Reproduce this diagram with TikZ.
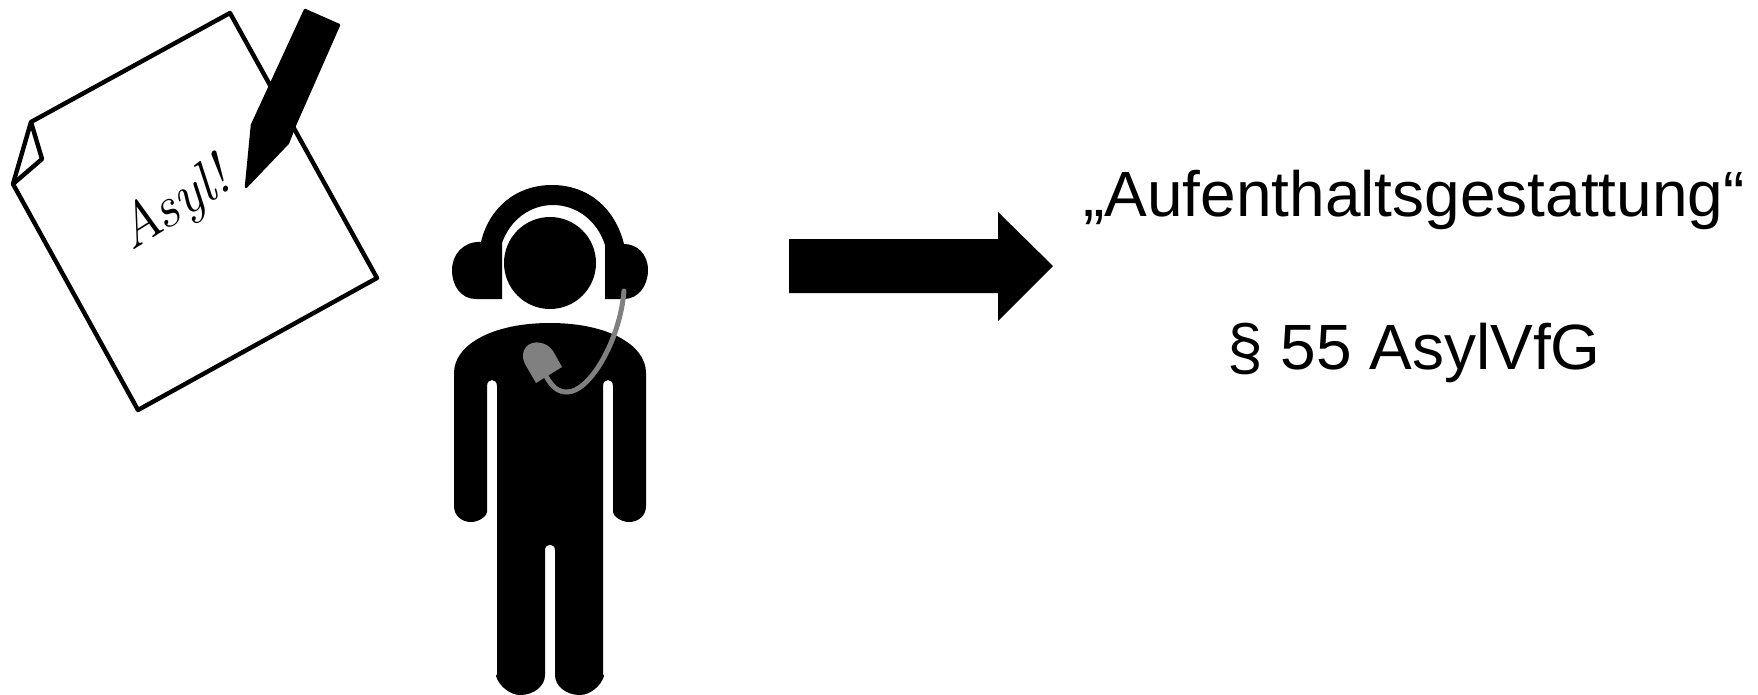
\documentclass[tikz,border=0pt]{standalone}
\usepackage{fontspec}
\setmainfont{Liberation Sans}
\newfontfamily\handfont{Latin Modern Roman}
\definecolor{micgray}{HTML}{808080}

\begin{document}
\begin{tikzpicture}[x=1pt, y=-1pt,
  sheet/.style={draw=black, line width=4.4pt, line join=round},
  bigtext/.style={font=\fontsize{64}{70}\selectfont, inner sep=0pt, anchor=base}]
  \useasboundingbox (0,0) rectangle (1758,694);
  % Sheet of paper with folded corner
  \draw[sheet] (31,122)--(230,13)--(377,278)--(138,410)--(13,184)--cycle;
  \draw[sheet] (31,122)--(42,159)--(13,184);
  \node[rotate=32, inner sep=0pt, font=\handfont\itshape\fontsize{58}{60}\selectfont] (plea) at (175,207) {Asyl!};
  % Pen
  \fill[line join=round, draw=black, line width=2.5pt]
    (305,10)--(339,25)--(295,125)--(288,143)--(246,187)--(252,125)--cycle;
  % Headset
  \fill (502,299) -- (502,243)
    .. controls (510,220) and (530,205) .. (553,205)
    .. controls (576,205) and (597,220) .. (605,245)
    -- (605,299) -- (624,299)
    .. controls (638,299) and (648,286) .. (648,270)
    .. controls (648,254) and (637,244) .. (624,244)
    .. controls (615,208) and (588,185) .. (552,185)
    .. controls (516,185) and (489,208) .. (481,242)
    .. controls (464,241) and (452,254) .. (452,270)
    .. controls (452,286) and (461,299) .. (476,299) -- cycle;
  % Head
  \fill (550,263) circle (46);
  % Body
  \fill (454,373)
    .. controls (454,345) and (492,323) .. (550,323)
    .. controls (608,323) and (646,345) .. (646,373)
    -- (646,506)
    .. controls (646,516) and (638,522) .. (629,522)
    .. controls (621,522) and (613,516) .. (613,512)
    -- (613,386)
    .. controls (613,378) and (603,378) .. (603,386)
    -- (603,674) -- (604,676)
    .. controls (601,686) and (590,695) .. (580,695)
    .. controls (566,695) and (555,686) .. (555,675)
    -- (555,550)
    .. controls (555,543) and (545,543) .. (545,550)
    -- (545,675)
    .. controls (545,686) and (534,695) .. (520,695)
    .. controls (510,695) and (499,686) .. (496,676)
    -- (497,674) -- (497,386)
    .. controls (497,378) and (487,378) .. (487,386)
    -- (487,512)
    .. controls (487,516) and (479,522) .. (471,522)
    .. controls (462,522) and (454,516) .. (454,506)
    -- cycle;
  % Microphone
  \draw[micgray, line width=5pt, line cap=round] (624,291)
    .. controls (620,340) and (590,392) .. (567,392)
    .. controls (558,392) and (552,387) .. (546,376);
  \fill[micgray, line join=round] (536,383)--(562,367)--(553,351)
    .. controls (547,342) and (533,339) .. (526,347)
    .. controls (522,352) and (522,358) .. (525,364)--cycle;
  % Arrow
  \fill (789,239)--(998,239)--(998,212)--(1053,266)--(998,321)--(998,293)--(789,293)--cycle;
  % Text
  \node[bigtext] (permit) at (1414,216) {„Aufenthaltsgestattung“};
  \node[bigtext] (statute) at (1414,369) {§ 55 AsylVfG};
\end{tikzpicture}
\end{document}
